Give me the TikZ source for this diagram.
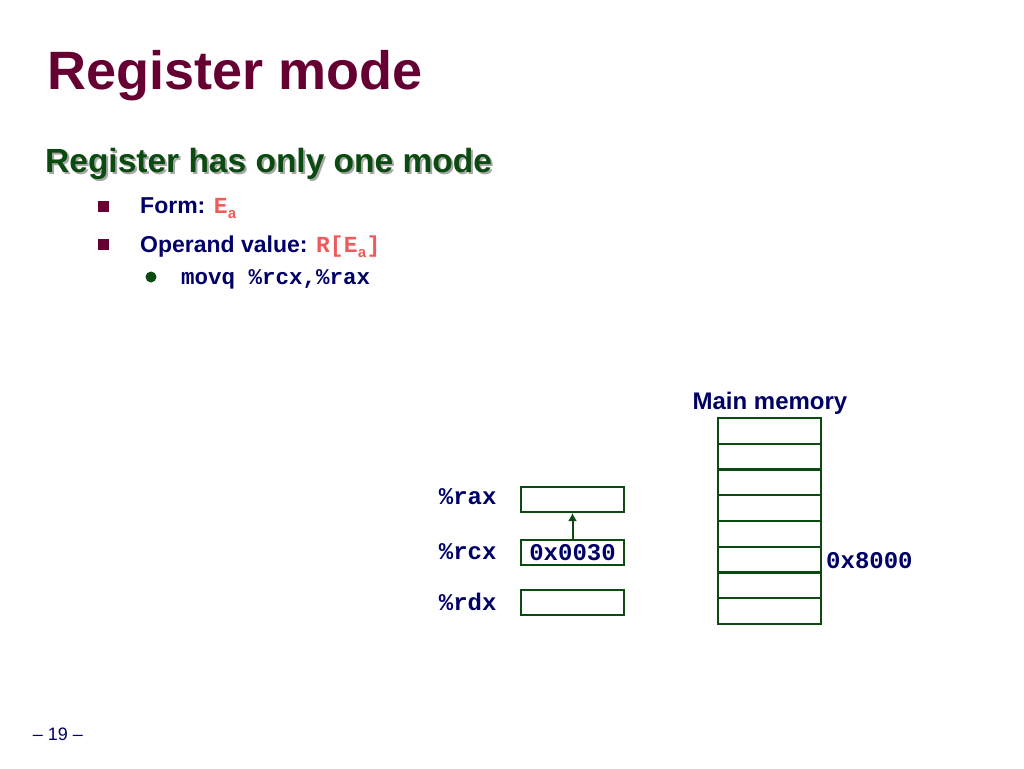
\documentclass[tikz,border=0pt]{standalone}
\usepackage{fontspec}
\usetikzlibrary{arrows.meta}
\setmainfont{Liberation Sans}
\setmonofont{Liberation Mono}
\definecolor{ttl}{HTML}{660033}
\definecolor{sub}{HTML}{0B4A10}
\definecolor{navy}{HTML}{000066}
\definecolor{sal}{HTML}{F05A5A}
\definecolor{grn}{HTML}{0B4A10}
\definecolor{bul}{HTML}{660033}
\begin{document}
\begin{tikzpicture}[x=1pt,y=-1pt,
  cell/.style={draw=grn,line width=2pt,minimum width=103pt,minimum height=25.7pt,inner sep=0pt,anchor=north west},
  reg/.style={draw=grn,line width=2pt,minimum width=103pt,minimum height=25pt,inner sep=0pt,anchor=north west,font=\fontsize{24}{24}\selectfont\ttfamily\bfseries\color{navy}},
  rlab/.style={anchor=east,font=\fontsize{24}{24}\selectfont\ttfamily\bfseries\color{navy}},
  btext/.style={anchor=base west,font=\fontsize{23}{23}\selectfont\bfseries\color{navy}}]
\useasboundingbox (0,0) rectangle (1024,768);
\node[anchor=base west,inner sep=0pt,font=\fontsize{54}{54}\selectfont\bfseries,text=ttl] (title) at (47,89) {Register mode};
\node[anchor=base west,inner sep=0pt,font=\fontsize{33.5}{33.5}\selectfont\bfseries,text=black!35] (subs) at (47,174) {Register has only one mode};
\node[anchor=base west,inner sep=0pt,font=\fontsize{33.5}{33.5}\selectfont\bfseries,text=sub] (subt) at (45,172) {Register has only one mode};
\fill[bul] (98,201) rectangle (109,212);
\fill[bul] (98,239) rectangle (109,250);
\fill[grn] (151,277) circle (5.5);
\node[btext,inner sep=0pt] (f1) at (140,213) {Form: {\ttfamily\color{sal}E\raisebox{-5pt}{\fontsize{15}{15}\selectfont a}}};
\node[btext,inner sep=0pt] (f2) at (140,252) {Operand value: {\ttfamily\color{sal}R[E\raisebox{-5pt}{\fontsize{15}{15}\selectfont a}]}};
\node[btext,inner sep=0pt,font=\fontsize{22.5}{22.5}\selectfont\ttfamily\bfseries\color{navy}] (f3) at (181,284) {movq \%rcx,\%rax};
\node[anchor=base,inner sep=0pt,font=\fontsize{24}{24}\selectfont\bfseries\color{navy}] (mm) at (770,409) {Main memory};
\foreach \i in {0,...,7} \node[cell] (m\i) at (717,417+25.75*\i) {};
\node[anchor=west,inner sep=0pt,font=\fontsize{24}{24}\selectfont\ttfamily\bfseries\color{navy}] (addr) at (826,561) {0x8000};
\node[reg] (rax) at (520,486) {};
\node[reg] (rcx) at (520,539) {0x0030};
\node[reg] (rdx) at (520,589) {};
\node[rlab] (lrax) at (500,497) {\%rax};
\node[rlab] (lrcx) at (500,552) {\%rcx};
\node[rlab] (lrdx) at (500,602) {\%rdx};
\draw[grn,line width=2pt,-{Latex[length=8pt,width=9pt]}] (rcx.north) -- (rax.south);
\node[anchor=base,inner sep=0pt,font=\fontsize{18}{18}\selectfont\color{navy}] (pg) at (58,740) {– 19 –};
\end{tikzpicture}
\end{document}
